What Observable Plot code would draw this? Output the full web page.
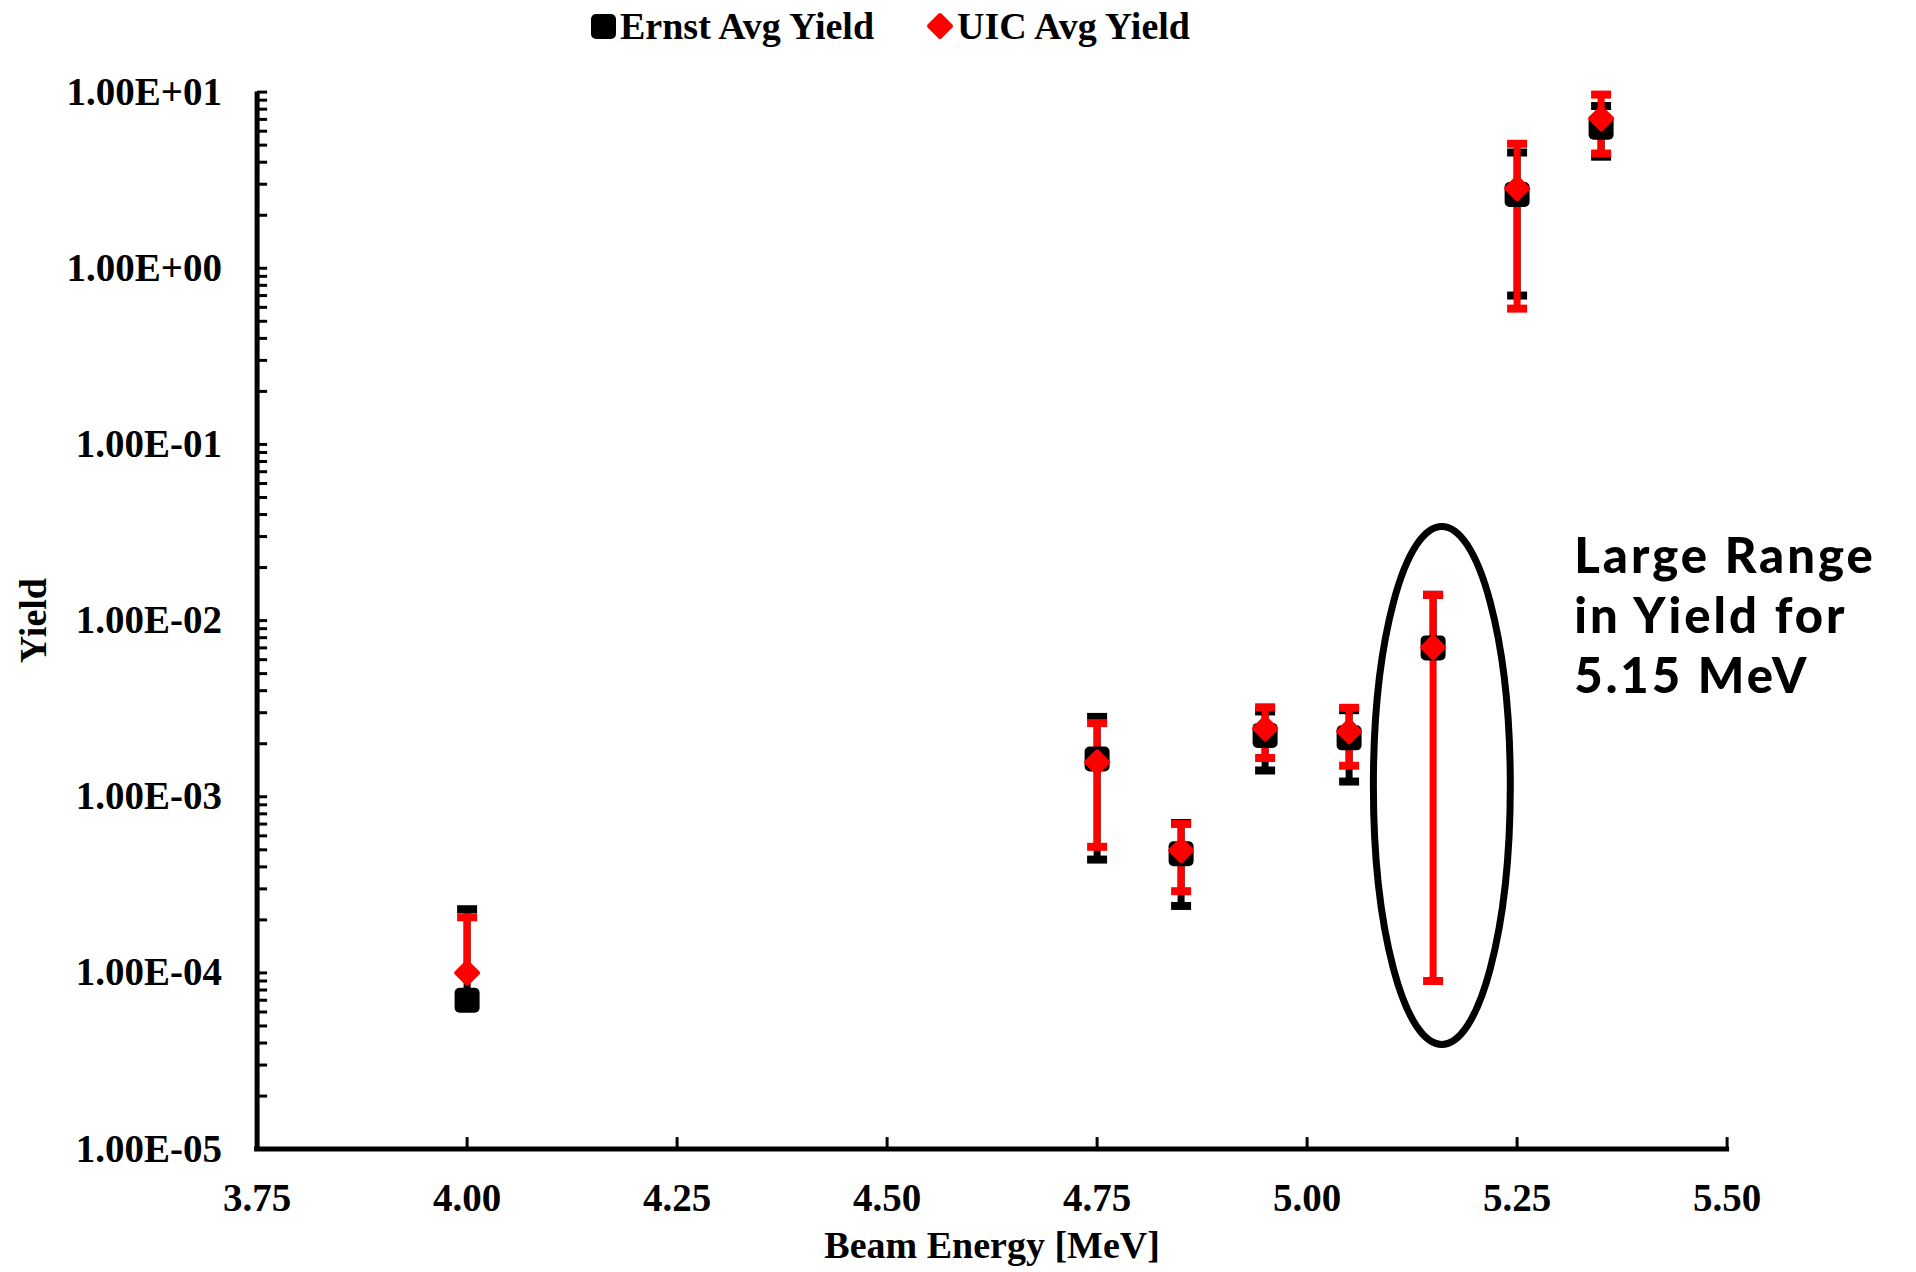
<!DOCTYPE html>
<html>
<head>
<meta charset="utf-8">
<script src="https://cdn.jsdelivr.net/npm/d3@7"></script>
<script src="https://cdn.jsdelivr.net/npm/@observablehq/plot@0.6"></script>
<style>
  html, body { margin: 0; padding: 0; background: #fff; }
  #legend { position: relative; width: 1916px; height: 52px; font-family: "Liberation Serif", serif; font-weight: bold; font-size: 38px; color: #000; }
  .item { position: absolute; top: 0; height: 52px; display: flex; align-items: center; white-space: nowrap; }
  .item svg { display: block; margin-right: 3px; }
  #chart svg { display: block; }
</style>
</head>
<body>
<div id="legend"></div>
<div id="chart"></div>
<script>
// ---- data ----
const energies   = [4.00, 4.75, 4.85, 4.95, 5.05, 5.15, 5.25, 5.35];
const ernstYield = [7.0e-5, 1.64e-3, 4.75e-4, 2.23e-3, 2.16e-3, 7.0e-3, 2.62, 6.32];
const ernstErr   = [1.6e-4, 1.2e-3, 2.35e-4, 0.82e-3, 0.94e-3, 7.0e-3, 1.92, 2.02];
const uicYield   = [1.0e-4, 1.57e-3, 4.96e-4, 2.44e-3, 2.35e-3, 7.05e-3, 2.84, 7.08];
const uicErr     = [1.07e-4, 1.05e-3, 2.05e-4, 0.78e-3, 0.85e-3, 6.96e-3, 2.25, 2.6];
const seriesNames  = ["Ernst Avg Yield", "UIC Avg Yield"];
const seriesColors = ["#000000", "#ff0000"];
const xTicks = [3.75, 4.00, 4.25, 4.50, 4.75, 5.00, 5.25, 5.50];
const yTicks = [1e-5, 1e-4, 1e-3, 1e-2, 1e-1, 1, 10];
const xLabel = "Beam Energy [MeV]";
const yLabel = "Yield";
const noteLines = ["Large Range", "in Yield for", "5.15 MeV"];
const noteX = 5.318;
const noteYs = [2.285e-2, 1.04e-2, 4.76e-3];
const highlight = {x: 5.161, rx: 0.0815, yTop: 0.034, yBottom: 3.9e-5};

// ---- derived tables ----
const rows = (ys, es, s) => energies.map((x, i) => ({x, y: ys[i], lo: ys[i] - es[i], hi: ys[i] + es[i], s}));
const ernst = rows(ernstYield, ernstErr, 0);
const uic = rows(uicYield, uicErr, 1);
const minorTicks = [];
for (let i = 0; i < yTicks.length - 1; i++) for (let k = 2; k <= 9; k++) minorTicks.push(k * yTicks[i]);
const allYTicks = yTicks.concat(minorTicks);
const yMid = Math.sqrt(yTicks[0] * yTicks[yTicks.length - 1]);
const notes = noteLines.map((t, i) => ({t, x: noteX, y: noteYs[i]}));

// ---- symbols ----
const capSym = {draw(c) { c.moveTo(-10, 0); c.lineTo(10, 0); }};
const yTickSym = {draw(c) { c.moveTo(0, 0); c.lineTo(10, 0); }};
const xTickSym = {draw(c) { c.moveTo(0, 0); c.lineTo(0, -12); }};
const roundSquare = {draw(c) {
  const h = 12.5, r = 5;
  c.moveTo(-h + r, -h);
  c.arcTo(h, -h, h, h, r);
  c.arcTo(h, h, -h, h, r);
  c.arcTo(-h, h, -h, -h, r);
  c.arcTo(-h, -h, h, -h, r);
  c.closePath();
}};
const diamond = {draw(c) {
  const h = 11;
  c.moveTo(0, -h); c.lineTo(h, 0); c.lineTo(0, h); c.lineTo(-h, 0); c.closePath();
}};

const fmtY = d => { const e = Math.round(Math.log10(d)); return "1.00E" + (e < 0 ? "-" : "+") + String(Math.abs(e)).padStart(2, "0"); };
const fmtX = d3.format(".2f");

function bars(data, color) {
  return [
    Plot.ruleX(data, {x: "x", y1: d => d.lo > 0 ? d.lo : d.y, y2: "hi", stroke: color, strokeWidth: 7}),
    Plot.dot(data, {x: "x", y: "hi", symbol: capSym, stroke: color, strokeWidth: 8, fill: "none", strokeLinecap: "butt"}),
    Plot.dot(data.filter(d => d.lo > 0), {x: "x", y: "lo", symbol: capSym, stroke: color, strokeWidth: 8, fill: "none", strokeLinecap: "butt"})
  ];
}

const font = "'Liberation Serif', 'Times New Roman', serif";
const noteFont = "Lato, 'Noto Sans', sans-serif";
const plot = Plot.plot({
  width: 1916,
  height: 1220,
  marginLeft: 256.6,
  marginRight: 189.4,
  marginTop: 39.6,
  marginBottom: 123.4,
  style: {fontFamily: font, fontWeight: "bold", fontSize: "38px", color: "#000", background: "#fff", overflow: "visible"},
  x: {domain: [3.75, 5.5]},
  y: {type: "log", domain: [1e-5, 10]},
  marks: [
    Plot.axisX({ticks: xTicks, tickFormat: fmtX, tickSize: 0, tickPadding: 34, fontSize: 39, fontWeight: "bold", label: null}),
    Plot.axisY({ticks: yTicks, tickFormat: fmtY, tickSize: 0, tickPadding: 35, fontSize: 39, fontWeight: "bold", label: null}),
    Plot.dot(allYTicks, {x: xTicks[0], y: d => d, symbol: yTickSym, stroke: "#000", strokeWidth: 3, fill: "none"}),
    Plot.dot(xTicks, {x: d => d, y: yTicks[0], symbol: xTickSym, stroke: "#000", strokeWidth: 3, fill: "none"}),
    Plot.ruleX([xTicks[0]], {y1: yTicks[0], y2: yTicks[yTicks.length - 1], stroke: "#000", strokeWidth: 5}),
    Plot.ruleY([yTicks[0]], {x1: xTicks[0], x2: xTicks[xTicks.length - 1], stroke: "#000", strokeWidth: 5, strokeLinecap: "square"}),
    ...bars(ernst, seriesColors[0]),
    ...bars(uic, seriesColors[1]),
    Plot.dot(ernst, {x: "x", y: "y", symbol: roundSquare, fill: seriesColors[0], stroke: "none"}),
    Plot.dot(uic, {x: "x", y: "y", symbol: diamond, fill: seriesColors[1], stroke: seriesColors[1], strokeWidth: 4, strokeLinejoin: "round"}),
    Plot.text([xLabel], {frameAnchor: "bottom", dy: 97, text: d => d, fontSize: 38, fontWeight: "bold", lineAnchor: "middle"}),
    Plot.text([yLabel], {frameAnchor: "left", y: [yMid], dx: 33 - 256.6, rotate: -90, text: d => d, textAnchor: "middle", fontSize: 38, fontWeight: "bold", lineAnchor: "middle"}),
    Plot.text(notes, {x: "x", y: "y", text: "t", textAnchor: "start", lineAnchor: "middle", fontFamily: noteFont, fontWeight: 900, fontSize: 49, fill: "#000"})
  ]
});

// slightly wider tracking for the annotation (reference uses a wide geometric face)
d3.select(plot).selectAll("text")
  .filter(function() { return noteLines.includes(this.textContent); })
  .attr("letter-spacing", 3);

// highlight ellipse, placed with the plot's own scales
const xs = plot.scale("x"), ys = plot.scale("y");
const cx = xs.apply(highlight.x);
const rx = xs.apply(highlight.x + highlight.rx) - cx;
const yt = ys.apply(highlight.yTop), yb = ys.apply(highlight.yBottom);
d3.select(plot).append("ellipse")
  .attr("cx", cx).attr("cy", (yt + yb) / 2)
  .attr("rx", rx).attr("ry", (yb - yt) / 2)
  .attr("fill", "none").attr("stroke", "#000").attr("stroke-width", 7);

document.getElementById("chart").appendChild(plot);

// legend
const legend = document.getElementById("legend");
const legendLeft = [590, 926];
seriesNames.forEach((name, i) => {
  const item = document.createElement("div");
  item.className = "item";
  item.style.left = legendLeft[i] + "px";
  const icon = i === 0
    ? `<svg width="27" height="27" viewBox="-13.5 -13.5 27 27"><rect x="-12.5" y="-12.5" width="25" height="25" rx="5" fill="${seriesColors[0]}"/></svg>`
    : `<svg width="28" height="28" viewBox="-14 -14 28 28"><path d="M0,-11L11,0L0,11L-11,0Z" fill="${seriesColors[1]}" stroke="${seriesColors[1]}" stroke-width="4" stroke-linejoin="round"/></svg>`;
  item.innerHTML = icon + `<span>${name}</span>`;
  legend.appendChild(item);
});
</script>
</body>
</html>
